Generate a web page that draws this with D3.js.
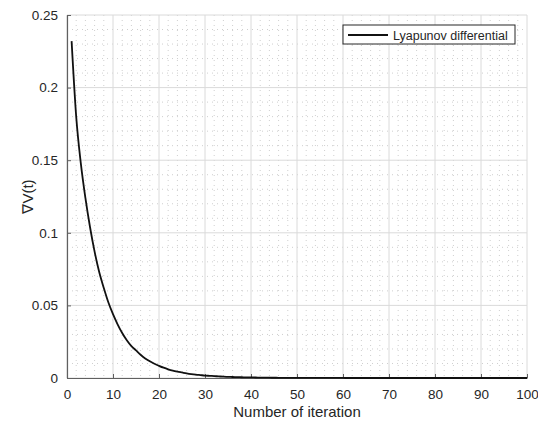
<!DOCTYPE html>
<html>
<head>
<meta charset="utf-8">
<script src="https://cdn.jsdelivr.net/npm/d3@7"></script>
<style>
  body { margin: 0; background: #fff; }
  svg { font-family: "Liberation Sans", Arial, sans-serif; }
</style>
</head>
<body>
<div id="chart"></div>
<script>
// values, iteration 1..100
const iterations = d3.range(1, 101);
const lyapunovDiff = [
  0.232, 0.180, 0.148, 0.124, 0.104, 0.087, 0.073, 0.062, 0.052, 0.044,
  0.037, 0.031, 0.026, 0.022, 0.019, 0.016, 0.0135, 0.0115, 0.0098, 0.0084,
  0.0071, 0.0060, 0.0051, 0.0044, 0.0038, 0.0032, 0.0027, 0.0023, 0.0020, 0.0017,
  0.0015, 0.0013, 0.0011, 0.0009, 0.0008, 0.0007, 0.0006, 0.0005, 0.00045, 0.0004,
  0.00035, 0.0003, 0.00025, 0.0002, 0.00018, 0.00015, 0.00013, 0.00011, 0.0001, 0.00008,
  0.00007, 0.00006, 0.00005, 0.00004, 0.00004, 0.00003, 0.00003, 0.00002, 0.00002, 0.00002,
  0.00001, 0.00001, 0.00001, 0.00001, 0.00001, 0, 0, 0, 0, 0,
  0, 0, 0, 0, 0, 0, 0, 0, 0, 0,
  0, 0, 0, 0, 0, 0, 0, 0, 0, 0,
  0, 0, 0, 0, 0, 0, 0, 0, 0, 0
];
const xTicks = [0, 10, 20, 30, 40, 50, 60, 70, 80, 90, 100];
const yTicks = [0, 0.05, 0.1, 0.15, 0.2, 0.25];
const legendLabel = 'Lyapunov differential';

const W = 538, H = 426;
const margin = {top: 15, right: 11, bottom: 48, left: 67};
const width = W - margin.left - margin.right,
      height = H - margin.top - margin.bottom;

const svg = d3.select('#chart').append('svg')
  .attr('width', W)
  .attr('height', H);

const g = svg.append('g')
  .attr('transform', `translate(${margin.left},${margin.top})`);

const x = d3.scaleLinear().domain([0, 100]).range([0, width]);
const y = d3.scaleLinear().domain([0, 0.25]).range([height, 0]);

// minor grid (dotted)
const xMinor = d3.range(0, 101, 2).filter(v => v % 10 !== 0);
const yMinor = d3.range(0, 26, 1).map(v => v / 100).filter((v, i) => i % 5 !== 0);

g.append('g').selectAll('line')
  .data(xMinor).join('line')
  .attr('x1', d => x(d)).attr('x2', d => x(d))
  .attr('y1', 0).attr('y2', height)
  .attr('stroke', '#cfcfcf').attr('stroke-width', 1)
  .attr('stroke-dasharray', '1,4');

g.append('g').selectAll('line')
  .data(yMinor).join('line')
  .attr('x1', 0).attr('x2', width)
  .attr('y1', d => y(d)).attr('y2', d => y(d))
  .attr('stroke', '#cfcfcf').attr('stroke-width', 1)
  .attr('stroke-dasharray', '1,4');

// major grid
g.append('g').selectAll('line')
  .data(xTicks).join('line')
  .attr('x1', d => x(d)).attr('x2', d => x(d))
  .attr('y1', 0).attr('y2', height)
  .attr('stroke', '#dadada').attr('stroke-width', 1);

g.append('g').selectAll('line')
  .data(yTicks).join('line')
  .attr('x1', 0).attr('x2', width)
  .attr('y1', d => y(d)).attr('y2', d => y(d))
  .attr('stroke', '#dadada').attr('stroke-width', 1);

// axes, ticks pointing inward
const xAxis = g.append('g')
  .attr('transform', `translate(0,${height})`)
  .call(d3.axisBottom(x).tickValues(xTicks).tickSizeInner(-4).tickSizeOuter(0).tickPadding(11));
const yAxis = g.append('g')
  .call(d3.axisLeft(y).tickValues(yTicks).tickFormat(d => d3.format('')(d)).tickSizeInner(-4).tickSizeOuter(0).tickPadding(9));

[xAxis, yAxis].forEach(a => {
  a.select('.domain').attr('stroke', '#606060').attr('stroke-width', 1.2);
  a.selectAll('.tick line').attr('stroke', '#606060');
  a.selectAll('.tick text').attr('fill', '#262626').style('font-size', '13.5px')
    .style('font-family', '"Liberation Sans", Arial, sans-serif');
});

// curve
const line = d3.line()
  .x((d, i) => x(iterations[i]))
  .y(d => y(d))
  .curve(d3.curveMonotoneX);

g.append('path')
  .datum(lyapunovDiff)
  .attr('fill', 'none')
  .attr('stroke', '#111')
  .attr('stroke-width', 1.8)
  .attr('d', line);

// axis titles
svg.append('text')
  .attr('x', margin.left + width / 2)
  .attr('y', 417)
  .attr('text-anchor', 'middle')
  .attr('fill', '#262626')
  .style('font-size', '15px')
  .text('Number of iteration');

svg.append('text')
  .attr('transform', `translate(33,${margin.top + height / 2}) rotate(-90)`)
  .attr('text-anchor', 'middle')
  .attr('fill', '#262626')
  .style('font-size', '15px')
  .text('\u2207V(t)');

// legend
const lg = svg.append('g').attr('transform', 'translate(343,25)');
lg.append('rect')
  .attr('width', 172).attr('height', 19)
  .attr('fill', '#fff').attr('stroke', '#262626').attr('stroke-width', 1);
lg.append('line')
  .attr('x1', 5).attr('x2', 45).attr('y1', 10).attr('y2', 10)
  .attr('stroke', '#111').attr('stroke-width', 1.8);
lg.append('text')
  .attr('x', 50).attr('y', 14.5)
  .attr('fill', '#262626')
  .style('font-size', '12.5px')
  .text(legendLabel);
</script>
</body>
</html>
